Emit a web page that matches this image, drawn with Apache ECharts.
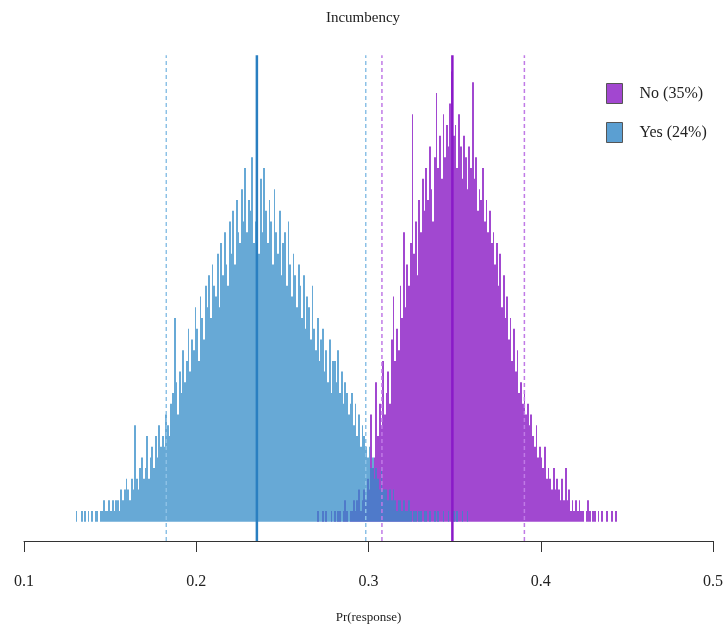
<!DOCTYPE html>
<html>
<head>
<meta charset="utf-8">
<script src="https://cdn.jsdelivr.net/npm/echarts@6/dist/echarts.min.js"></script>
<style>
  html, body { margin: 0; padding: 0; background: #fff; }
  #main { width: 726px; height: 629px; }
</style>
</head>
<body>
<div id="main"></div>
<script>
// bin width of the histogram
var binWidth = 0.001;

// Yes (24%) counts, bins start at 0.130
var yesStart = 0.130;
var yesCounts = [
  1,0,0,1,0,1,0,1,0,1,
  0,1,1,0,1,1,2,1,1,2,
  1,2,1,2,2,1,3,2,3,4,
  3,2,4,3,9,4,3,5,6,4,
  5,8,4,6,7,5,8,6,9,7,
  8,7,10,9,8,11,12,19,13,10,
  14,12,16,13,15,18,14,17,16,20,
  18,15,21,19,17,22,20,23,19,24,
  22,21,25,20,26,23,27,24,22,28,
  25,29,24,30,27,26,31,28,33,27,
  30,29,34,26,28,31,25,32,27,33,
  29,26,30,28,24,31,27,25,29,23,
  26,27,22,28,24,21,25,23,20,24,
  22,19,23,18,21,20,17,22,18,16,
  19,15,17,18,14,16,13,17,12,15,
  15,13,16,12,14,11,13,12,10,11,
  12,9,11,8,10,7,9,8,7,6,
  7,5,6,4,5,4,3,5,3,3,
  3,2,3,2,3,2,1,2,2,1,
  2,1,1,2,1,0,1,1,0,1,
  1,0,1,1,0,1,0,0,1,0,
  1,0,0,1,0,0,1,0,0,1,
  0,1,0,0,1,0,0,1,0,0
];

// No (35%) counts, bins start at 0.270
var noStart = 0.270;
var noCounts = [
  1,0,0,1,0,1,0,0,1,0,
  1,0,1,1,0,1,2,1,0,1,
  1,2,1,2,3,1,2,3,2,4,
  3,10,5,6,13,8,11,9,15,10,
  12,14,11,17,21,15,18,16,22,19,
  27,20,24,22,26,38,25,28,23,30,
  27,32,29,33,30,35,31,28,34,40,
  33,36,32,38,34,37,35,39,42,36,
  37,33,38,35,32,36,34,31,35,33,
  41,32,34,29,31,30,33,28,30,27,
  29,26,27,24,26,22,25,20,23,19,
  21,17,19,15,18,14,16,12,13,11,
  12,10,11,9,10,8,7,9,6,7,
  6,5,7,4,5,4,3,5,3,4,
  3,2,4,2,5,2,3,1,2,1,
  2,1,2,1,1,0,1,2,1,0,
  1,1,0,1,0,1,0,0,1,0,
  0,1,0,1,0
];

// mean and 95% interval per group
var yesMean = 0.2352, yesLow = 0.1826, yesHigh = 0.2984;
var noMean = 0.3487, noLow = 0.3078, noHigh = 0.3905;

var serif = '"Liberation Serif", "DejaVu Serif", serif';

var yesFill = 'rgba(52,140,200,0.75)';
var noFill = 'rgba(145,40,200,0.85)';

function toBins(start, counts) {
  return counts.map(function (c, i) { return [start + i * binWidth, c]; });
}

function histItem(color) {
  return function (params, api) {
    var x0 = api.value(0), h = api.value(1);
    if (!h) return null;
    var p0 = api.coord([x0, 0]);
    var p1 = api.coord([x0 + binWidth, h]);
    // snap to whole pixels: no hairline gaps, no darker overlaps
    var left = Math.round(p0[0]), right = Math.round(p1[0]);
    return {
      type: 'rect',
      shape: { x: left, y: p1[1], width: right - left, height: p0[1] - p1[1] },
      style: { fill: color }
    };
  };
}

function vline(x, color, width, dashed) {
  return {
    type: 'line',
    data: [[x, -1.8], [x, 43.5]],
    symbol: 'none',
    silent: true,
    lineStyle: { color: color, width: width, type: dashed ? [4, 3] : 'solid' },
    z: 5
  };
}

var chart = echarts.init(document.getElementById('main'));
chart.setOption({
  animation: false,
  title: {
    text: 'Incumbency',
    left: 'center',
    top: 6,
    textStyle: { fontFamily: serif, fontSize: 15, fontWeight: 'normal', color: '#222' }
  },
  legend: {
    orient: 'vertical',
    left: 606,
    top: 83,
    padding: 0,
    itemWidth: 16,
    itemHeight: 20,
    itemGap: 18,
    icon: 'rect',
    textStyle: { fontFamily: serif, fontSize: 16, color: '#222', padding: [0, 0, 0, 12] },
    data: [
      { name: 'No (35%)', itemStyle: { color: '#a247d0', borderColor: '#555', borderWidth: 1 } },
      { name: 'Yes (24%)', itemStyle: { color: '#5b9fd2', borderColor: '#555', borderWidth: 1 } }
    ]
  },
  grid: { left: 24, right: 13, top: 50, bottom: 87 },
  xAxis: {
    type: 'value',
    min: 0.1,
    max: 0.5,
    interval: 0.1,
    name: 'Pr(response)',
    nameLocation: 'middle',
    nameGap: 70,
    nameTextStyle: { fontFamily: serif, fontSize: 13, color: '#222' },
    axisLine: { onZero: false, lineStyle: { color: '#333', width: 1 } },
    axisTick: { length: 11, lineStyle: { color: '#333' } },
    axisLabel: {
      margin: 33,
      fontFamily: serif,
      fontSize: 16,
      color: '#222',
      formatter: function (v) { return v.toFixed(1); }
    },
    splitLine: { show: false }
  },
  yAxis: { type: 'value', min: -1.8, max: 44, show: false },
  series: [
    { name: 'No (35%)', type: 'custom', renderItem: histItem(noFill), data: toBins(noStart, noCounts), z: 2 },
    { name: 'Yes (24%)', type: 'custom', renderItem: histItem(yesFill), data: toBins(yesStart, yesCounts), z: 3 },
    vline(yesLow, '#8cc1e6', 1.5, true),
    vline(yesHigh, '#8cc1e6', 1.5, true),
    vline(noLow, '#c07ae6', 1.5, true),
    vline(noHigh, '#c07ae6', 1.5, true),
    vline(yesMean, '#2a7fc1', 2.5, false),
    vline(noMean, '#8a1ac8', 2.5, false)
  ]
});
</script>
</body>
</html>
